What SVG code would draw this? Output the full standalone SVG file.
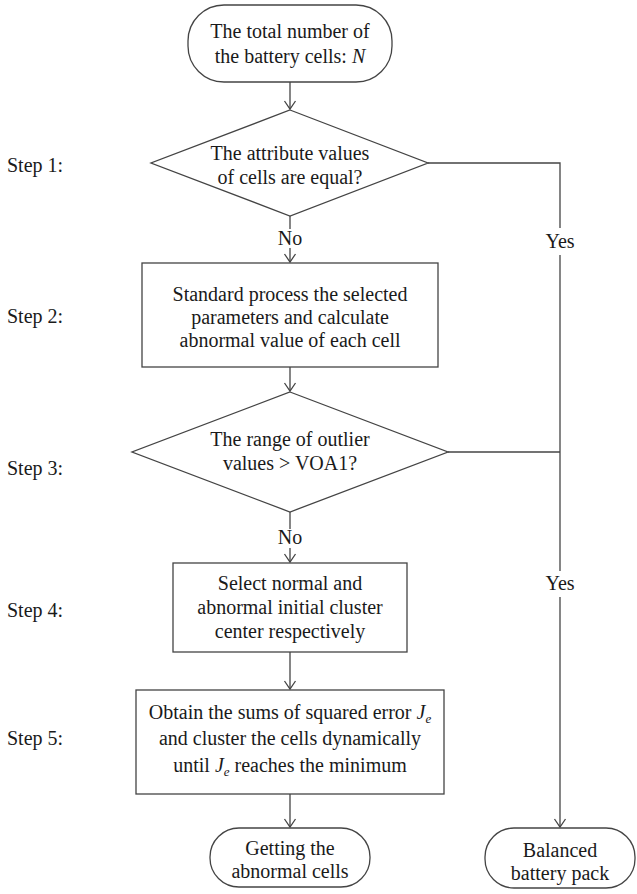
<svg xmlns="http://www.w3.org/2000/svg" width="637" height="894" viewBox="0 0 637 894">
<style>
  .shape { fill: #ffffff; stroke: #444444; stroke-width: 1.3; }
  .line { fill: none; stroke: #444444; stroke-width: 1.3; }
  text { font-family: "Liberation Serif", "Times New Roman", serif; font-size: 20px; fill: #1a1a1a; }
  .c { text-anchor: middle; }
</style>
<defs>
  <marker id="arr" markerUnits="userSpaceOnUse" markerWidth="20" markerHeight="20" viewBox="-10 -10 20 20" refX="0" refY="0" orient="auto">
    <path d="M-8,-5.5 L0,0 L-8,5.5" fill="none" stroke="#444444" stroke-width="1.3"/>
  </marker>
</defs>
<rect width="637" height="894" fill="#ffffff"/>

<g id="step-labels">
  <text x="7" y="172">Step 1:</text>
  <text x="7" y="323">Step 2:</text>
  <text x="7" y="475">Step 3:</text>
  <text x="7" y="617">Step 4:</text>
  <text x="7" y="745">Step 5:</text>
</g>

<g id="connectors">
  <path class="line" d="M290,82 V109" marker-end="url(#arr)"/>
  <path class="line" d="M290,216 V229"/>
  <path class="line" d="M290,248 V262" marker-end="url(#arr)"/>
  <path class="line" d="M290,367 V391" marker-end="url(#arr)"/>
  <path class="line" d="M290,512 V529"/>
  <path class="line" d="M290,548 V562" marker-end="url(#arr)"/>
  <path class="line" d="M290,652 V689" marker-end="url(#arr)"/>
  <path class="line" d="M290,794 V827" marker-end="url(#arr)"/>
  <path class="line" d="M428,163 H560 V228"/>
  <path class="line" d="M560,255 V571"/>
  <path class="line" d="M448,452 H560"/>
  <path class="line" d="M560,597 V827" marker-end="url(#arr)"/>
  <text class="c" x="290" y="245">No</text>
  <text class="c" x="290" y="544">No</text>
  <text class="c" x="560" y="248">Yes</text>
  <text class="c" x="560" y="590">Yes</text>
</g>

<g id="start">
  <rect class="shape" x="188" y="5" width="204" height="77" rx="36" ry="36"/>
  <text class="c" x="290" y="38">The total number of</text>
  <text class="c" x="290" y="63">the battery cells: <tspan font-style="italic">N</tspan></text>
</g>

<g id="step1">
  <polygon class="shape" points="290,110 428,163 290,216 151,163"/>
  <text class="c" x="290" y="160">The attribute values</text>
  <text class="c" x="290" y="184">of cells are equal?</text>
</g>

<g id="step2">
  <rect class="shape" x="142" y="263" width="296" height="104"/>
  <text class="c" x="290" y="301">Standard process the selected</text>
  <text class="c" x="290" y="324">parameters and calculate</text>
  <text class="c" x="290" y="347">abnormal value of each cell</text>
</g>

<g id="step3">
  <polygon class="shape" points="290,392 448,452 290,512 132,452"/>
  <text class="c" x="290" y="446">The range of outlier</text>
  <text class="c" x="290" y="470">values &gt; VOA1?</text>
</g>

<g id="step4">
  <rect class="shape" x="173" y="563" width="234" height="89"/>
  <text class="c" x="290" y="590">Select normal and</text>
  <text class="c" x="290" y="614">abnormal initial cluster</text>
  <text class="c" x="290" y="638">center respectively</text>
</g>

<g id="step5">
  <rect class="shape" x="136" y="690" width="308" height="104"/>
  <text class="c" x="290" y="719">Obtain the sums of squared error <tspan font-style="italic">J</tspan><tspan font-size="13" font-style="italic" dy="4">e</tspan></text>
  <text class="c" x="290" y="745">and cluster the cells dynamically</text>
  <text class="c" x="290" y="772">until <tspan font-style="italic">J</tspan><tspan font-size="13" font-style="italic" dy="4">e</tspan><tspan dy="-4"> reaches the minimum</tspan></text>
</g>

<g id="end-abnormal">
  <rect class="shape" x="210" y="828" width="160" height="59" rx="29" ry="29"/>
  <text class="c" x="290" y="855">Getting the</text>
  <text class="c" x="290" y="878">abnormal cells</text>
</g>

<g id="end-balanced">
  <rect class="shape" x="485" y="828" width="150" height="60" rx="29" ry="29"/>
  <text class="c" x="560" y="857">Balanced</text>
  <text class="c" x="560" y="880">battery pack</text>
</g>
</svg>
